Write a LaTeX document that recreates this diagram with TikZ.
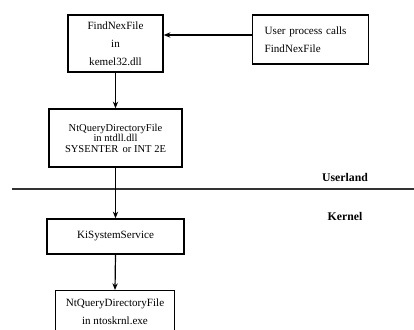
\documentclass[tikz,border=0pt]{standalone}
\usepackage{fontspec}
\setmainfont{Liberation Serif}
\usetikzlibrary{arrows.meta}

\begin{document}
\begin{tikzpicture}[x=0.75pt, y=-0.75pt,
        box/.style={draw, line width=1.1pt, inner sep=0pt, align=center, font=\fontsize{8.3}{13.5}\selectfont},
        arr/.style={-{Stealth[length=5pt, width=4pt]}, line width=0.9pt},
        realm/.style={font=\fontsize{8.8}{10}\selectfont\bfseries}]
                \useasboundingbox (0,0) rectangle (414,329);
                % Nodes
                \node[box, minimum width=71.25pt, minimum height=42.75pt] (find) at (115.5,43.5) {FindNexFile\\in\\kemel32.dll};
                \node[box, minimum height=36.75pt, inner xsep=9pt, text width=69pt, align=left, anchor=west] (user) at (252,39.5) {User process calls\\FindNexFile};
                \node[box, minimum width=99.75pt, minimum height=43.5pt, font=\fontsize{7.9}{7.9}\selectfont] (ntdll) at (115.5,138) {NtQueryDirectoryFile\\in ntdll.dll\\SYSENTER\, or INT 2E};
                \node[box, minimum width=102.75pt, minimum height=26.25pt] (kiss) at (115.5,236.5) {KiSystemService};
                \node[box, minimum width=89.25pt, minimum height=45pt, anchor=north] (ntos) at (115,290) {NtQueryDirectoryFile\\in ntoskrnl.exe\\ };
                \node[realm] (userland) at (345,177) {Userland};
                \node[realm] (kernel) at (345,216) {Kernel};
                \coordinate (lineL) at (12,189);
                \coordinate (lineR) at (414,189);

                % Edges
                \draw[line width=1.1pt, black!80] (lineL)--(lineR);
                \draw[arr] (user.west |- 0,35)--(find.east |- 0,35);
                \draw[arr] (find.south)--(ntdll.north);
                \draw[arr] (ntdll.south)--(kiss.north);
                \draw[arr] (kiss.south)--(ntos.north);
            \end{tikzpicture}
\end{document}
